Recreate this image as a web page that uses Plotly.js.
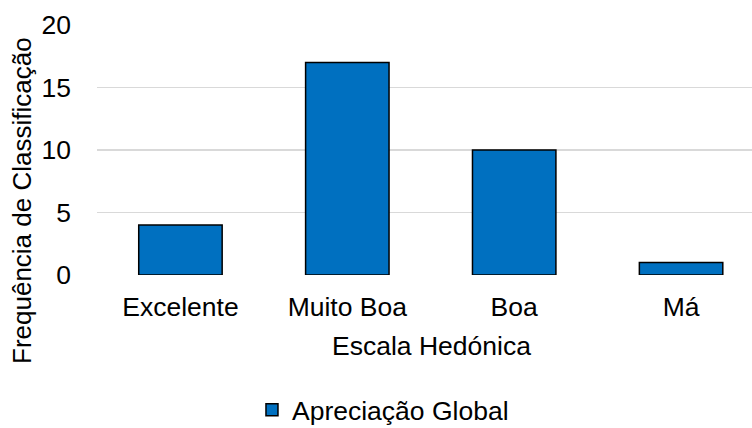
<!DOCTYPE html>
<html>
<head>
<meta charset="utf-8">
<script src="https://cdn.plot.ly/plotly-3.0.1.min.js"></script>
<style>html,body{margin:0;padding:0;background:#fff;}#chart{width:752px;height:428px;}</style>
</head>
<body>
<div id="chart"></div>
<script>
var categories = ["Excelente", "Muito Boa", "Boa", "Má"];
var values = [4, 17, 10, 1];
var seriesName = "Apreciação Global";
var yTicks = [0, 5, 10, 15, 20];

var font = "Liberation Sans, Arial, sans-serif";
var trace = {
  type: "bar",
  x: categories,
  y: values,
  name: seriesName,
  width: 0.5,
  marker: {color: "#0070c0", line: {color: "#000000", width: 1.5}},
  showlegend: true
};
var layout = {
  width: 752, height: 428,
  margin: {l: 97, r: 0, t: 25, b: 153, pad: 0, autoexpand: false},
  paper_bgcolor: "#ffffff", plot_bgcolor: "#ffffff",
  font: {family: font, size: 26, color: "#000000"},
  xaxis: {
    type: "category",
    range: [-0.5, 3.425],
    showgrid: false, zeroline: false, showline: false,
    ticks: "", ticklabelstandoff: 13,
    tickfont: {family: font, size: 26.5, color: "#000"}
  },
  yaxis: {
    range: [0, 20],
    tickvals: yTicks,
    ticktext: yTicks.map(String),
    showgrid: true, gridcolor: "#d9d9d9", gridwidth: 1.2,
    zeroline: false, showline: false,
    ticks: "", ticklabelstandoff: 25,
    tickfont: {family: font, size: 26.5, color: "#000"}
  },
  showlegend: true,
  legend: {
    orientation: "h", x: 0.2366, xanchor: "left", y: -0.54, yanchor: "middle",
    font: {family: font, size: 26.5, color: "#000"},
    itemwidth: 30
  },
  annotations: [
    {text: "Escala Hedónica", xref: "paper", yref: "paper", x: 0.51, y: -0.284, xanchor: "center", yanchor: "middle", showarrow: false, font: {family: font, size: 26.5, color: "#000"}},
    {text: "Frequência de Classificação", xref: "paper", yref: "paper", x: -0.1145, xanchor: "center", y: 0.296, yanchor: "middle", textangle: -90, showarrow: false, font: {family: font, size: 26, color: "#000"}}
  ]
};
Plotly.newPlot("chart", [trace], layout, {displayModeBar: false, staticPlot: true});
</script>
</body>
</html>
